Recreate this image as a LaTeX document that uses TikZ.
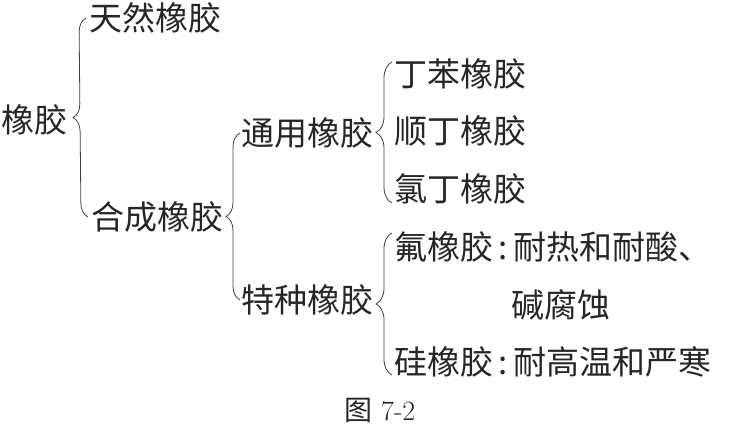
\documentclass[tikz,border=0pt]{standalone}
\usepackage{fontspec}
\newfontfamily\cjk{Noto Sans CJK SC}
\usetikzlibrary{decorations.pathreplacing}

\begin{document}
\begin{tikzpicture}[x=1pt, y=-1pt,
  every node/.style={font=\cjk\fontsize{33}{38}\selectfont, inner sep=0pt, anchor=west, text=black!85},
  br/.style={decorate, decoration={brace, amplitude=14pt}, line width=0.8pt, black!75},
  brr/.style={br, decoration={brace, amplitude=16pt}}
]
\useasboundingbox (0,0) rectangle (729,435);

\node (xj) at (1,120)   {橡胶};
\node (tr) at (89,18)   {天然橡胶};
\node (hc) at (91,217)  {合成橡胶};
\node (ty) at (241,133) {通用橡胶};
\node (tz) at (241,300) {特种橡胶};
\node (db) at (394,74)  {丁苯橡胶};
\node (sd) at (394,131) {顺丁橡胶};
\node (ld) at (394,189) {氯丁橡胶};
\node (fx) at (394,247) {氟橡胶\,:\,耐热和耐酸、};
\node (jf) at (511,305) {碱腐蚀};
\node (gx) at (394,362) {硅橡胶\,:\,耐高温和严寒};
\node[anchor=center, font=\fontsize{28}{32}\selectfont] (cap) at (380,410) {{\cjk 图} 7-2};

\draw[br]  ([xshift=-3pt]hc.west) -- ([xshift=-3pt]tr.west);
\draw[br]  ([xshift=-1pt]tz.west) -- ([xshift=-1pt]ty.west);
\draw[brr] ([xshift=-2pt,yshift=-14pt]ld.west) -- ([xshift=-2pt,yshift=12pt]db.west);
\draw[brr] ([xshift=-2pt,yshift=-13pt]gx.west) -- ([xshift=-2pt,yshift=14pt]fx.west);
\end{tikzpicture}
\end{document}
